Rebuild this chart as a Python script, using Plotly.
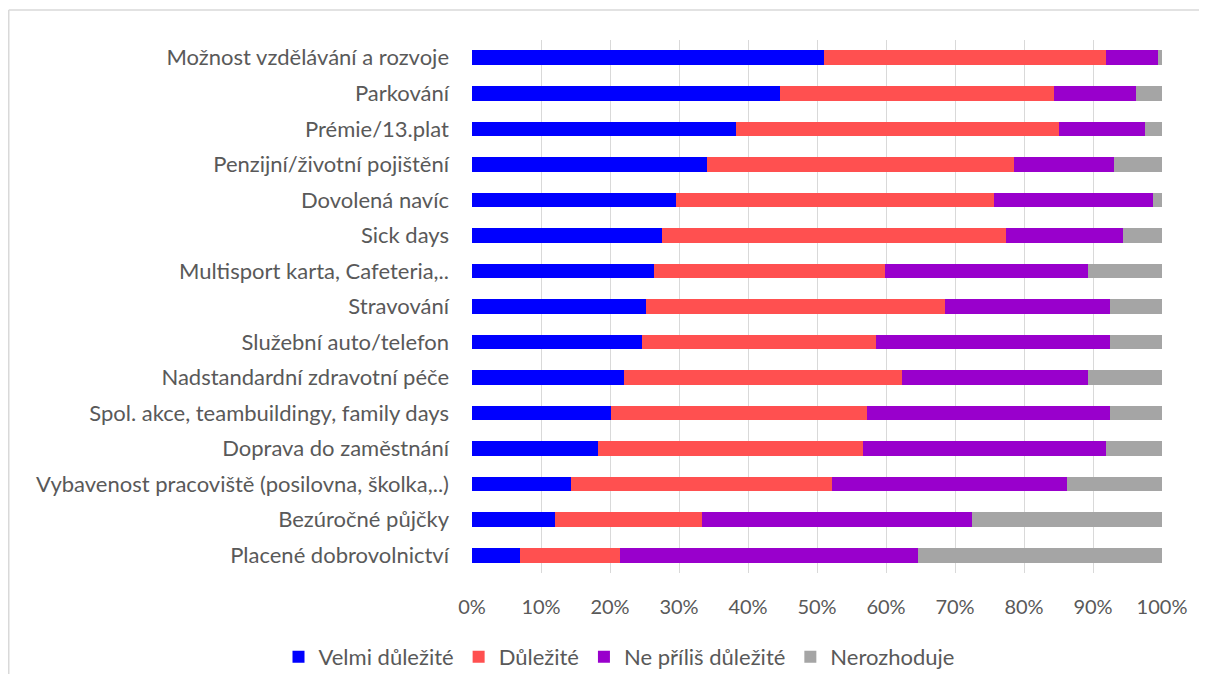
import plotly.graph_objects as go

categories = [
    "Možnost vzdělávání a rozvoje",
    "Parkování",
    "Prémie/13.plat",
    "Penzijní/životní pojištění",
    "Dovolená navíc",
    "Sick days",
    "Multisport karta, Cafeteria,..",
    "Stravování",
    "Služební auto/telefon",
    "Nadstandardní zdravotní péče",
    "Spol. akce, teambuildingy, family days",
    "Doprava do zaměstnání",
    "Vybavenost pracoviště (posilovna, školka,..)",
    "Bezúročné půjčky",
    "Placené dobrovolnictví",
]

velmi = [51.0, 44.6, 38.3, 34.0, 29.5, 27.6, 26.4, 25.2, 24.6, 22.0, 20.1, 18.2, 14.4, 12.0, 6.9]
dulezite = [40.9, 39.7, 46.7, 44.6, 46.1, 49.8, 33.4, 43.4, 34.0, 40.3, 37.2, 38.5, 37.8, 21.4, 14.5]
ne_prilis = [7.5, 11.9, 12.5, 14.5, 23.1, 16.9, 29.5, 23.9, 33.9, 27.0, 35.2, 35.2, 34.0, 39.0, 43.3]
nerozhoduje = [0.6, 3.8, 2.5, 6.9, 1.3, 5.7, 10.7, 7.5, 7.5, 10.7, 7.5, 8.1, 13.8, 27.6, 35.3]

series = [
    ("Velmi důležité", velmi, "#0000FF"),
    ("Důležité", dulezite, "#FF5050"),
    ("Ne příliš důležité", ne_prilis, "#9900CC"),
    ("Nerozhoduje", nerozhoduje, "#A5A5A5"),
]

tick_vals = [0, 0.1, 0.2, 0.3, 0.4, 0.5, 0.6, 0.7, 0.8, 0.9, 1.0]

W, H = 1199, 666
ML, MT = 464, 32
MR = W - 1154
MB = H - 565
PW = W - ML - MR
PH = H - MT - MB

fig = go.Figure()
for name, vals, color in series:
    fig.add_trace(go.Bar(
        y=categories,
        x=[v / 100 for v in vals],
        name=name,
        orientation="h",
        marker=dict(color=color, line=dict(width=0)),
    ))

border = dict(color="#D9D9D9", width=1.5)
font_family = "Lato, Open Sans, sans-serif"
fig.update_layout(
    barmode="stack",
    bargap=0.59,
    width=W,
    height=H,
    margin=dict(l=ML, r=MR, t=MT, b=MB, autoexpand=False),
    paper_bgcolor="white",
    plot_bgcolor="white",
    font=dict(family=font_family, size=20, color="#595959"),
    showlegend=True,
    legend=dict(
        orientation="h",
        xref="container",
        yref="container",
        x=611 / W,
        xanchor="center",
        y=1 - 649 / H,
        yanchor="middle",
        font=dict(size=22, color="#595959"),
        traceorder="normal",
        itemwidth=30,
    ),
    xaxis=dict(
        range=[0, 1.0],
        tickvals=tick_vals,
        tickformat=".0%",
        showgrid=True,
        gridcolor="#D9D9D9",
        gridwidth=1,
        zeroline=False,
        showline=False,
        ticks="",
        ticklabelstandoff=20,
        tickfont=dict(size=20, color="#595959"),
        fixedrange=True,
    ),
    yaxis=dict(
        categoryorder="array",
        categoryarray=categories,
        autorange="reversed",
        showgrid=False,
        showline=False,
        ticks="",
        ticklabelstandoff=22,
        tickfont=dict(size=22, color="#595959"),
    ),
    shapes=[
        dict(type="line", xref="paper", yref="paper",
             x0=-ML / PW + 0.75 / PW, x1=(W - ML) / PW,
             y0=1 + (MT - 2) / PH, y1=1 + (MT - 2) / PH,
             line=border, layer="below"),
        dict(type="line", xref="paper", yref="paper",
             x0=-ML / PW + 0.75 / PW, x1=-ML / PW + 0.75 / PW,
             y0=-MB / PH, y1=1 + (MT - 2) / PH,
             line=border, layer="below"),
    ],
)

fig.write_html("out.html")
